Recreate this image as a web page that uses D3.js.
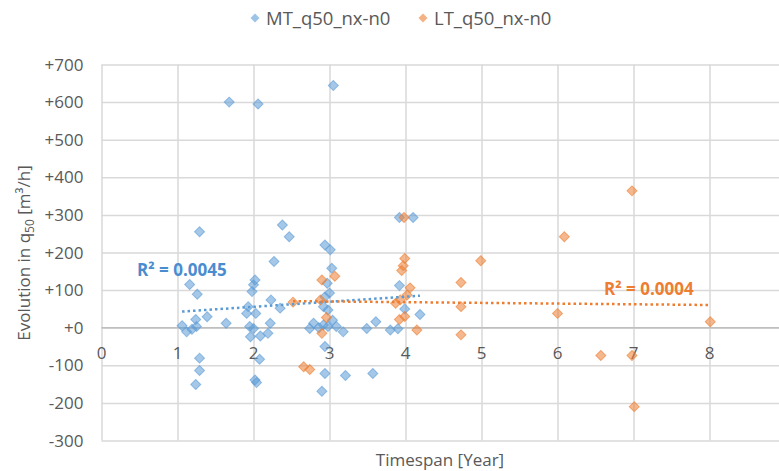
<!DOCTYPE html>
<html>
<head>
<meta charset="utf-8">
<script src="https://cdn.jsdelivr.net/npm/d3@7"></script>
<style>
  body { margin: 0; background: #fff; }
  text { font-family: "Open Sans", sans-serif; fill: #595959; }
</style>
</head>
<body>
<div class="chart"></div>
<script>
// Section 1: data
var seriesNames = ["MT_q50_nx-n0", "LT_q50_nx-n0"];

var mtX = [1.68, 2.06, 3.05, 1.29, 2.38, 2.47, 2.94, 3.01, 2.27, 3.03,
  2.02, 2.00, 1.98, 2.23, 2.35, 1.93, 1.91, 2.03, 2.22, 1.95,
  2.00, 1.96, 2.09, 2.19, 2.97, 3.00, 2.94, 2.92, 2.98, 2.74,
  2.79, 2.92, 2.98, 3.09, 3.18, 3.49, 3.61, 3.80, 3.90, 2.94,
  2.94, 3.21, 3.57, 2.90, 3.92, 4.10, 3.92, 3.99, 4.19, 1.16,
  1.26, 1.39, 1.24, 1.64, 1.06, 1.12, 1.19, 1.25, 1.29, 1.29,
  1.24, 2.08, 2.02, 2.04, 3.04, 2.86];
var mtY = [600, 595, 644, 255, 273, 242, 220, 207, 176, 158,
  127, 114, 96, 74, 52, 56, 38, 38, 12, 3,
  -2, -24, -22, -15, 118, 92, 82, 56, 47, -2,
  12, 7, 3, 3, -11, -2, 16, -6, -3, -50,
  -122, -127, -122, -169, 293, 293, 112, 50, 35, 115,
  89, 29, 22, 12, 5, -11, -4, 3, -81, -114,
  -151, -84, -139, -146, 20, 0];

var ltX = [2.52, 2.90, 3.07, 2.88, 2.96, 2.90, 2.66, 2.74, 3.98, 3.99,
  3.97, 3.95, 4.06, 4.02, 3.93, 3.87, 3.99, 3.92, 4.15, 6.98,
  6.09, 4.99, 4.73, 4.73, 4.73, 6.00, 8.01, 6.57, 6.98, 7.01];
var ltY = [68, 127, 137, 74, 27, -15, -104, -111, 293, 184,
  165, 152, 106, 87, 74, 65, 30, 22, -6, 364,
  242, 178, 120, 56, -19, 38, 16, -74, -74, -210];

var r2Labels = ["R\u00b2 = 0.0045", "R\u00b2 = 0.0004"];
var xTicks = [0, 1, 2, 3, 4, 5, 6, 7, 8, 9];
var yTicks = [-300, -200, -100, 0, 100, 200, 300, 400, 500, 600, 700];

var colors = ["#5b9bd5", "#ed7d31"];

// Section 2: chart setup
var svgWidth = 779;
var svgHeight = 471;

var margin = { top: 64.5, left: 101.5 };
var width = 684;
var height = 376;

var svg = d3
  .select(".chart")
  .append("svg")
  .attr("width", svgWidth)
  .attr("height", svgHeight);

var chartGroup = svg
  .append("g")
  .attr("transform", `translate(${margin.left}, ${margin.top})`);

var xScale = d3.scaleLinear().domain([0, 9]).range([0, width]);
var yScale = d3.scaleLinear().domain([-300, 700]).range([height, 0]);

// gridlines
chartGroup
  .append("g")
  .call(d3.axisLeft(yScale).tickValues(yTicks).tickSize(-width).tickFormat(""))
  .call((g) => g.select(".domain").remove())
  .selectAll("line")
  .attr("stroke", "#d9d9d9")
  .attr("stroke-width", 1.5);

chartGroup
  .append("g")
  .attr("transform", `translate(0, ${height})`)
  .call(d3.axisBottom(xScale).tickValues(xTicks).tickSize(height).tickFormat(""))
  .call((g) => g.select(".domain").remove())
  .selectAll("line")
  .attr("y2", -height)
  .attr("stroke", "#d9d9d9")
  .attr("stroke-width", 1.5);

// zero line
chartGroup
  .append("line")
  .attr("x1", 0)
  .attr("x2", width)
  .attr("y1", yScale(0))
  .attr("y2", yScale(0))
  .attr("stroke", "#bfbfbf")
  .attr("stroke-width", 1.5);

// y tick labels
var fmtY = (v) => (v >= 0 ? "+" + v : "-" + Math.abs(v));
chartGroup
  .selectAll(".ylab")
  .data(yTicks)
  .enter()
  .append("text")
  .attr("x", -18)
  .attr("y", (d) => yScale(d) + 6)
  .attr("text-anchor", "end")
  .attr("font-size", "17px")
  .text(fmtY);

// x tick labels sit under the zero line
chartGroup
  .selectAll(".xlab")
  .data(xTicks)
  .enter()
  .append("text")
  .attr("x", (d) => xScale(d))
  .attr("y", yScale(0) + 31)
  .attr("text-anchor", "middle")
  .attr("font-size", "17px")
  .text((d) => d);

// trendlines (least squares, drawn over the data's x range)
function fit(xs, ys) {
  var mx = d3.mean(xs);
  var my = d3.mean(ys);
  var sxy = d3.sum(xs, (x, i) => (x - mx) * (ys[i] - my));
  var sxx = d3.sum(xs, (x) => (x - mx) * (x - mx));
  var b = sxy / sxx;
  var a = my - b * mx;
  var x0 = d3.min(xs);
  var x1 = d3.max(xs);
  return [[x0, a + b * x0], [x1, a + b * x1]];
}

var diamond = d3.symbol().type(d3.symbolSquare).size(50);

function drawSeries(xs, ys, color) {
  chartGroup
    .append("g")
    .selectAll("path")
    .data(xs.map((x, i) => [x, ys[i]]))
    .enter()
    .append("path")
    .attr("d", diamond)
    .attr("transform", (d) => `translate(${xScale(d[0])}, ${yScale(d[1])}) rotate(45)`)
    .attr("fill", color)
    .attr("fill-opacity", 0.55)
    .attr("stroke", color)
    .attr("stroke-opacity", 0.6)
    .attr("stroke-width", 1);
}

drawSeries(mtX, mtY, colors[0]);
drawSeries(ltX, ltY, colors[1]);

var line = d3
  .line()
  .x((d) => xScale(d[0]))
  .y((d) => yScale(d[1]));

[fit(mtX, mtY), fit(ltX, ltY)].forEach(function (pts, i) {
  chartGroup
    .append("path")
    .attr("d", line(pts))
    .attr("fill", "none")
    .attr("stroke", colors[i])
    .attr("stroke-width", 2.5)
    .attr("stroke-dasharray", "2.5,3");
});

// R² labels
svg
  .append("text")
  .attr("x", 137)
  .attr("y", 276)
  .attr("font-size", "17px")
  .attr("font-weight", "bold")
  .style("fill", "#4a8cd0")
  .text(r2Labels[0]);

svg
  .append("text")
  .attr("x", 604)
  .attr("y", 295)
  .attr("font-size", "17px")
  .attr("font-weight", "bold")
  .style("fill", colors[1])
  .text(r2Labels[1]);

// axis titles
svg
  .append("text")
  .attr("x", 440)
  .attr("y", 466)
  .attr("text-anchor", "middle")
  .attr("font-size", "17px")
  .text("Timespan [Year]");

var yTitle = svg
  .append("text")
  .attr("transform", "translate(30, 253) rotate(-90)")
  .attr("text-anchor", "middle")
  .attr("font-size", "17px");
yTitle.append("tspan").text("Evolution in q");
yTitle.append("tspan").attr("font-size", "12px").attr("dy", 4).text("50");
yTitle.append("tspan").attr("dy", -4).text(" [m\u00b3/h]");

// legend
var legendX = [255, 423];
seriesNames.forEach(function (name, i) {
  svg
    .append("path")
    .attr("d", d3.symbol().type(d3.symbolSquare).size(40))
    .attr("transform", `translate(${legendX[i]}, 18) rotate(45)`)
    .attr("fill", colors[i])
    .attr("fill-opacity", 0.6);
  svg
    .append("text")
    .attr("x", legendX[i] + 11)
    .attr("y", 24.5)
    .attr("font-size", "18.5px")
    .text(name);
});
</script>
</body>
</html>
